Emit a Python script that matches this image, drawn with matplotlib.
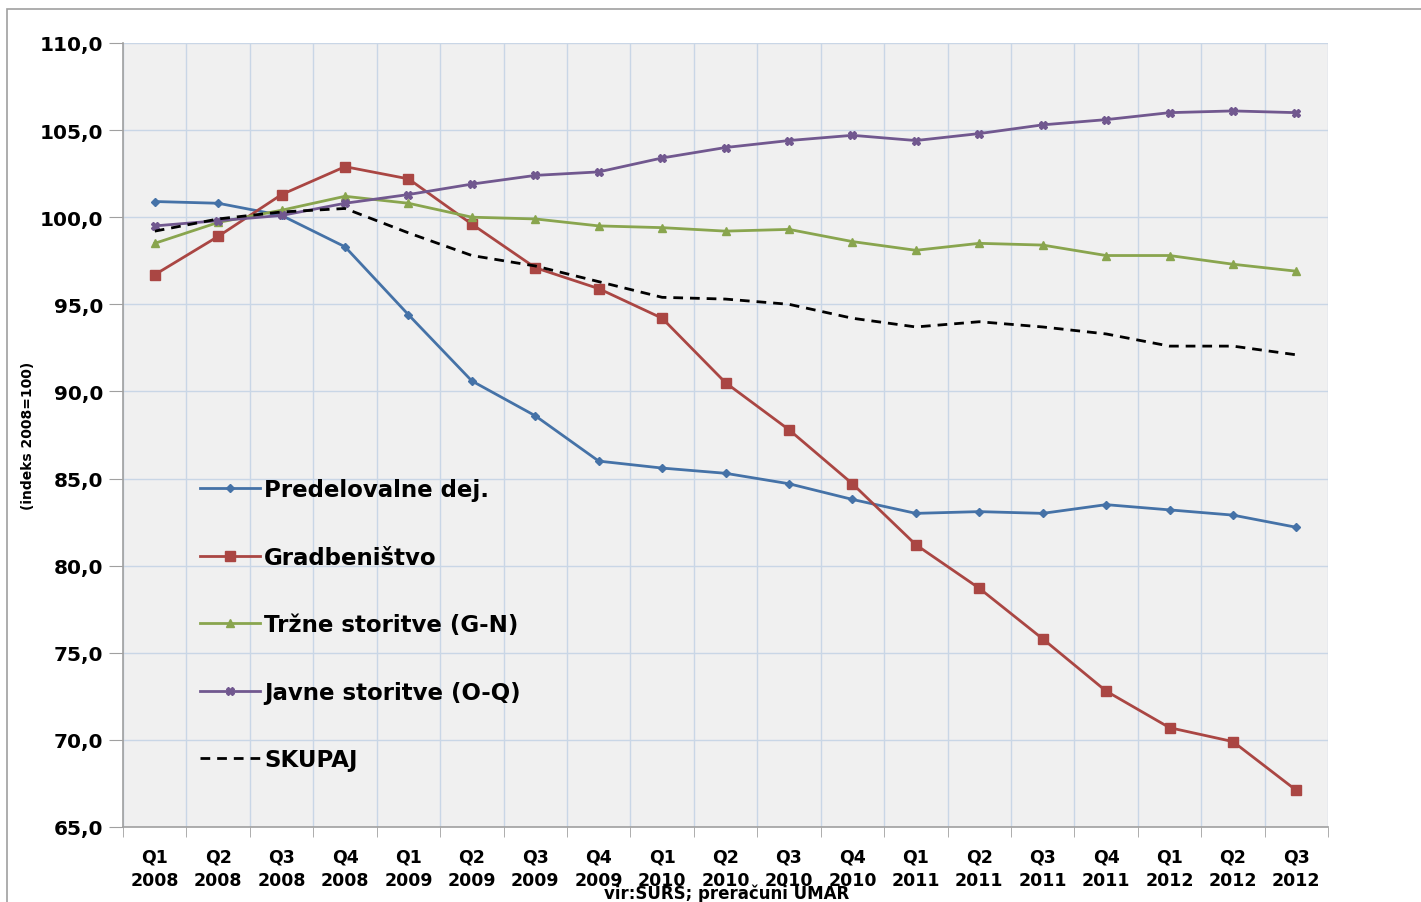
import matplotlib
matplotlib.use('Agg')
import matplotlib.pyplot as plt
from matplotlib.patches import Rectangle
import numpy as np

# Podatki (indeks 2008=100)
quarters = ['Q1', 'Q2', 'Q3', 'Q4'] * 4 + ['Q1', 'Q2', 'Q3']
years = ['2008'] * 4 + ['2009'] * 4 + ['2010'] * 4 + ['2011'] * 4 + ['2012'] * 3
tick_labels = [f'{q}\n{y}' for q, y in zip(quarters, years)]

predelovalne = [100.9, 100.8, 100.1, 98.3, 94.4, 90.6, 88.6, 86.0, 85.6, 85.3,
                84.7, 83.8, 83.0, 83.1, 83.0, 83.5, 83.2, 82.9, 82.2]
gradbenistvo = [96.7, 98.9, 101.3, 102.9, 102.2, 99.6, 97.1, 95.9, 94.2, 90.5,
                87.8, 84.7, 81.2, 78.7, 75.8, 72.8, 70.7, 69.9, 67.1]
trzne = [98.5, 99.7, 100.4, 101.2, 100.8, 100.0, 99.9, 99.5, 99.4, 99.2,
         99.3, 98.6, 98.1, 98.5, 98.4, 97.8, 97.8, 97.3, 96.9]
javne = [99.5, 99.8, 100.1, 100.8, 101.3, 101.9, 102.4, 102.6, 103.4, 104.0,
         104.4, 104.7, 104.4, 104.8, 105.3, 105.6, 106.0, 106.1, 106.0]
skupaj = [99.2, 99.9, 100.3, 100.5, 99.1, 97.8, 97.2, 96.3, 95.4, 95.3,
          95.0, 94.2, 93.7, 94.0, 93.7, 93.3, 92.6, 92.6, 92.1]

plt.rcParams['font.family'] = ['DejaVu Sans']
plt.rcParams['font.weight'] = 'bold'

fig = plt.figure(figsize=(14.21, 9.03), dpi=100)
ax = fig.add_axes([0.0866, 0.0831, 0.848, 0.8682])

# okvir grafikona
fig.patches.append(Rectangle((7 / 1421, -0.1), 1.2, 1 - 10 / 903 + 0.1,
                             transform=fig.transFigure, fill=False,
                             edgecolor='#a0a0a0', linewidth=1.2))

ax.set_facecolor('#f0f0f0')
x = np.arange(len(tick_labels))

ax.plot(x, predelovalne, color='#4572a7', lw=2, marker='D', ms=4,
        label='Predelovalne dej.')
ax.plot(x, gradbenistvo, color='#aa4643', lw=2, marker='s', ms=6.5,
        label='Gradbeništvo')
ax.plot(x, trzne, color='#89a54e', lw=2, marker='^', ms=6,
        label='Tržne storitve (G-N)')
ax.plot(x, javne, color='#71588f', lw=2, marker='X', ms=6,
        label='Javne storitve (O-Q)')
ax.plot(x, skupaj, color='black', lw=2, ls=(0, (3.5, 2.5)), label='SKUPAJ')

ax.set_xlim(-0.5, len(x) - 0.5)
ax.set_ylim(65, 110)
ax.set_yticks(np.arange(65, 110.1, 5))
ax.set_yticklabels([f'{v:.1f}'.replace('.', ',') for v in np.arange(65, 110.1, 5)],
                   fontsize=14.5, fontweight='bold')

ax.set_xticks(x)
ax.set_xticklabels(tick_labels, fontsize=12.5, fontweight='bold', linespacing=1.35)
ax.set_xticks(np.arange(-0.5, len(x)), minor=True)
ax.tick_params(axis='x', which='major', length=0, pad=15)
ax.tick_params(axis='x', which='minor', length=7, color='#a0a0a0', direction='out')
ax.tick_params(axis='y', length=10, color='#a0a0a0', direction='out', pad=4)

ax.grid(True, axis='y', color='#c9d6e6', lw=1)
ax.grid(True, axis='x', which='minor', color='#c9d6e6', lw=1)
ax.set_axisbelow(True)

for s in ['top', 'right']:
    ax.spines[s].set_visible(False)
for s in ['left', 'bottom']:
    ax.spines[s].set_color('#a0a0a0')
    ax.spines[s].set_linewidth(1.2)

ax.set_ylabel('(indeks 2008=100)', fontsize=10, fontweight='bold', labelpad=4)

leg = ax.legend(loc='upper left', bbox_to_anchor=(0.0564, 0.4566), frameon=False,
                prop={'size': 16.5, 'weight': 'bold'}, handlelength=2.6,
                handletextpad=0.2, labelspacing=1.94, borderaxespad=0)

fig.text(0.511, 1 - 894 / 903, 'vir:SURS; preračuni UMAR', ha='center', va='center',
         fontsize=12, fontweight='bold')

fig.savefig('out.png', dpi=100)
